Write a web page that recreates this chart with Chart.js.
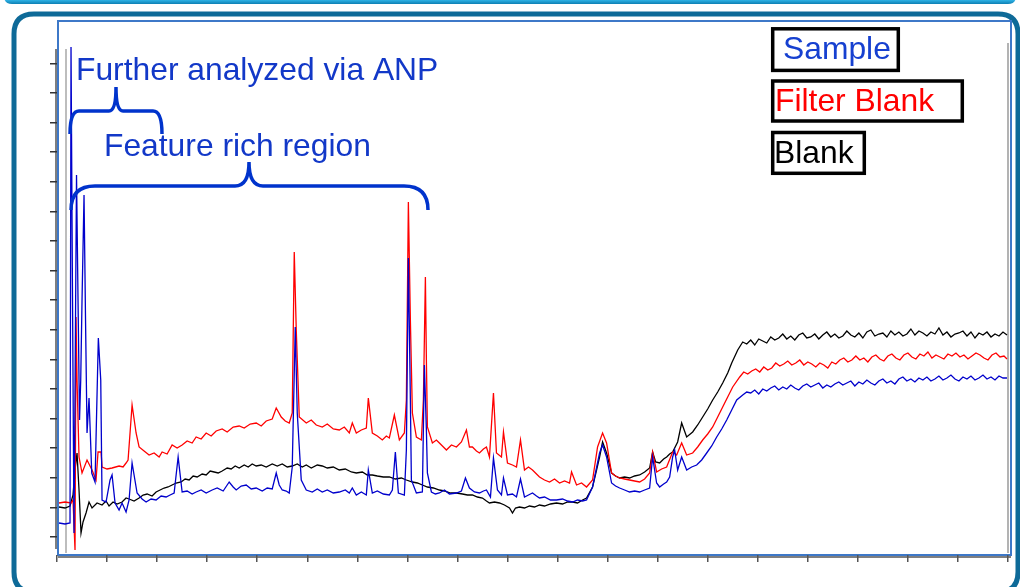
<!DOCTYPE html>
<html>
<head>
<meta charset="utf-8">
<script src="https://cdn.jsdelivr.net/npm/chart.js@4.4.1/dist/chart.umd.min.js"></script>
<style>
  html, body { margin: 0; padding: 0; background: #ffffff; }
  #wrap { width: 1020px; height: 587px; }
</style>
</head>
<body>
<div id="wrap"><canvas id="c" width="1020" height="587"></canvas></div>
<script>
// ---------------- DATA (retention axis: 50 units per tick; intensity: arbitrary units) ----------------
const xTicks = [0, 50, 100, 150, 200, 250, 300, 350, 400, 450, 500, 550, 600, 650, 700, 750, 800, 850, 900, 950];
const yTicks = [0, 29.6, 59.2, 88.8, 118.4, 148, 177.6, 207.2, 236.8, 266.4, 296, 325.6, 355.2, 384.8, 414.4, 444, 473.6];

const seriesNames = ["Sample", "Filter Blank", "Blank"];

// [retention, intensity]
const sample = [
  [2,14],[8,13],[13,14],[14,490],[15.5,237],[17,4],[19.5,362],[21,237],[22.5,117],[23.7,157],[25,237],[27,342],[28.5,217],
  [30,104],[32,139],[34.7,64],[38,55],[41.3,199],[43.7,157],[45,37],[49,35],[53,57],[55,62],[58,34],[62,27],[65,34],[69,25],[72,37],[75,74],
  [80,44],[85,38],[89,35],[94,38],[99,37],[104,41],[109,40],[113,42],[117,44],[121,80],[125,45],[130,46],[135,43],[139,45],[144,47],[149,44],
  [155,47],[160,49],[166,46],[172,55],[176,50],[179,47],[184,51],[189,52],[194,48],[199,49],[205,46],[210,49],[215,48],[219,64],[222,52],[225,47],[229,46],[232,44],
  [235,70],[238,210],[240,124],[244,57],
  [249,47],[255,45],[260,48],[265,45],[270,47],[276,44],[282,45],[288,47],[292,44],[295,49],[299,42],[304,45],[309,42],[311,67],[315,44],[320,46],[326,43],[332,42],[335,47],[338,85],[341,44],[347,42],
  [349,87],[351,279],[353,137],[354,57],[359,44],[365,45],[367,172],[369,107],[370,64],
  [374,45],[378,43],[382,44],[387,47],[392,43],[399,44],[404,46],[408,59],[412,49],[417,45],[422,44],[426,46],[429,47],[433,40],[436,79],[440,47],[444,42],[446,59],[450,42],
  [455,43],[459,40],[463,58],[467,40],[471,42],[475,44],[479,41],[482,39],[487,40],[493,37],[499,37],[505,38],[510,36],[515,35],[520,37],[525,36],[529,37],[535,50],
  [542,84],[545,92],[549,80],
  [554,54],[558,51],[562,49],[567,47],[572,45],[577,46],[582,45],[587,47],[592,49],[595,80],[599,54],[602,50],[606,53],[609,55],[612,60],[615,80],[617,87],[620,67],[624,80],[629,67],
  [634,70],[639,72],[644,77],[649,84],[654,91],[659,100],[664,108],[669,117],[674,127],[679,137],
  [685,142],[689,145],[693,144],[697,147],[701,143],[705,148],[709,146],[713,149],[717,151],[721,147],[725,150],[729,148],[733,152],[737,149],[741,147],[745,151],[749,153],
  [753,150],[757,152],[761,154],[765,149],[769,152],[773,150],[777,153],[781,155],[785,152],[789,154],[793,156],[797,151],[801,155],[805,153],[809,157],[813,154],[817,152],
  [821,156],[825,158],[829,154],[833,156],[837,153],[841,158],[845,160],[849,156],[853,158],[857,155],[861,159],[865,157],[869,160],[873,156],[877,158],[881,161],[885,157],
  [889,159],[893,162],[897,158],[901,156],[905,160],[909,158],[913,161],[917,157],[921,159],[925,162],[929,158],[933,160],[937,157],[941,161],[945,159],[949,159]
];

const filterBlank = [
  [2,34],[8,35],[14,34],[16,37],[18,-13],[19,220],[20,157],[22,80],[25,64],[30,77],[35,67],[39,57],[41,85],[44,85],[45,70],[50,68],[55,69],[62,71],[66,70],[69,74],[71,77],[75,132],[79,104],
  [82,90],[87,86],[92,82],[97,84],[102,80],[105,85],[110,83],[115,92],[120,89],[125,92],[130,96],[135,94],[139,100],[144,98],[149,104],[154,101],[159,106],[165,108],[170,105],
  [176,110],[182,111],[187,109],[193,113],[199,114],[204,111],[209,116],[215,118],[219,129],[224,120],[228,116],[232,114],
  [235,124],[237,285],[239,207],
  [242,120],[249,114],[254,117],[259,112],[265,110],[270,113],[276,108],[282,107],[287,110],[292,104],[295,114],[299,104],[304,107],[309,109],[311,139],[315,104],[320,101],
  [325,97],[329,101],[332,99],[337,122],[342,97],[347,104],
  [349,137],[351,335],[353,217],[355,124],[359,100],[364,97],[366,137],[368,260],[369,177],
  [370,110],[375,94],[379,97],[382,94],[386,90],[389,87],[394,92],[399,90],[404,95],[409,107],[412,90],[415,90],[419,86],[422,84],[426,88],[429,90],[432,80],[436,144],[439,84],
  [444,80],[446,105],[450,74],[455,72],[459,70],[463,97],[467,67],[471,70],[475,67],[479,63],[482,60],[487,57],[492,55],[497,58],[502,54],[507,56],[512,54],[514,65],[519,52],
  [524,54],[529,50],[535,57],
  [540,90],[545,104],[549,94],
  [554,64],[558,61],[562,59],[567,58],[572,57],[577,56],[582,55],[587,58],[592,64],[595,85],[599,65],[604,68],[609,70],[615,85],[619,82],[624,94],[629,82],[635,84],[640,90],
  [645,97],[650,103],[655,110],[660,120],[665,130],[670,140],[675,150],[682,160],
  [686,165],[690,163],[694,166],[698,168],[702,165],[706,170],[710,167],[714,169],[718,174],[722,171],[726,173],[730,176],[734,172],[738,174],[742,177],[746,172],[750,175],
  [754,173],[758,170],[762,174],[766,172],[770,169],[774,175],[778,173],[782,177],[786,179],[790,175],[794,177],[798,181],[802,177],[806,179],[810,175],[814,180],[818,182],
  [822,178],[826,176],[830,181],[834,183],[838,179],[842,177],[846,182],[850,184],[854,180],[858,178],[862,183],[866,181],[870,185],[874,179],[878,182],[882,180],[886,178],
  [890,183],[894,181],[898,184],[902,180],[906,182],[910,178],[914,181],[918,184],[922,182],[926,179],[930,177],[934,182],[938,184],[942,180],[946,181],[949,178]
];

const blank = [
  [2,30],[8,29],[13,31],[16,42],[18,67],[20,84],[22,47],[24,4],[26,15],[29,24],[32,35],[35,29],
  [40,34],[45,32],[49,36],[52,31],[56,35],[60,33],[65,35],[69,39],[72,38],[77,36],[82,39],[86,42],[90,43],[95,41],[99,45],[103,47],[107,49],[111,50],[115,52],[119,54],
  [124,55],[128,58],[132,57],[136,61],[140,60],[145,63],[149,62],[153,66],[157,65],[161,64],[165,66],[170,69],[174,68],[178,71],[182,69],[187,72],[191,70],[195,73],
  [199,71],[204,72],[209,70],[215,73],[220,71],[225,73],[230,70],[235,71],[240,73],[245,70],[249,72],[254,69],[260,72],[265,71],[270,69],[276,70],[282,67],[288,68],
  [294,65],[299,64],[305,65],[310,62],[315,62],[320,61],[326,60],[332,60],[338,58],[344,59],[349,57],[355,55],[360,54],[365,52],[370,50],[376,49],[382,47],[387,46],
  [393,44],[399,44],[405,43],[410,42],[415,42],[420,40],[425,39],[429,36],[432,34],[437,35],[442,34],[447,32],[452,29],[455,24],[458,29],[462,30],[467,29],[472,31],
  [477,30],[482,32],[487,31],[493,33],[499,34],[505,33],[510,35],[515,35],[520,34],[525,37],[529,39],
  [535,50],[539,67],[542,80],[545,95],[549,84],[552,72],
  [554,64],[558,61],[562,59],[567,60],[572,59],[577,61],[582,62],[587,65],[592,69],[595,85],[598,75],[602,74],[606,78],[609,80],[612,83],[615,85],[620,95],[624,114],
  [629,100],[635,105],[640,112],[645,120],[650,128],[655,137],[660,145],[665,154],[670,164],[674,174],[680,187],
  [685,195],[689,193],[693,197],[697,192],[701,198],[705,196],[709,194],[713,200],[717,197],[721,199],[725,203],[729,198],[733,201],[737,197],[741,202],[745,204],[749,199],
  [753,200],[757,203],[761,198],[765,202],[769,205],[773,200],[777,203],[781,199],[785,201],[789,206],[793,202],[797,200],[801,204],[805,199],[809,205],[813,207],[817,201],
  [821,203],[825,204],[829,200],[833,206],[837,202],[841,205],[845,201],[849,203],[853,208],[857,202],[861,206],[865,204],[869,201],[873,205],[877,203],[881,209],[885,202],
  [889,205],[893,200],[897,203],[901,204],[905,206],[909,201],[913,205],[917,199],[921,204],[925,202],[929,205],[933,200],[937,203],[941,201],[945,205],[949,202]
];

const seriesColors = ["#0000cc", "#ff0000", "#000000"];

// ---------------- helpers ----------------
function toPoints(arr) { return arr.map(p => ({ x: p[0], y: p[1] })); }

const FONT = "'Liberation Sans', Arial, Helvetica, sans-serif";

function roundRect(ctx, x, y, w, h, r) {
  ctx.beginPath();
  ctx.moveTo(x + r, y);
  ctx.lineTo(x + w - r, y);
  ctx.quadraticCurveTo(x + w, y, x + w, y + r);
  ctx.lineTo(x + w, y + h - r);
  ctx.quadraticCurveTo(x + w, y + h, x + w - r, y + h);
  ctx.lineTo(x + r, y + h);
  ctx.quadraticCurveTo(x, y + h, x, y + h - r);
  ctx.lineTo(x, y + r);
  ctx.quadraticCurveTo(x, y, x + r, y);
  ctx.closePath();
}

function brace(ctx, x1, x2, endY, hY, tipX, tipY, r, rt) {
  ctx.beginPath();
  ctx.moveTo(x1, endY);
  ctx.quadraticCurveTo(x1, hY, x1 + r, hY);
  ctx.lineTo(tipX - rt, hY);
  ctx.quadraticCurveTo(tipX, hY, tipX, tipY);
  ctx.quadraticCurveTo(tipX, hY, tipX + rt, hY);
  ctx.lineTo(x2 - r, hY);
  ctx.quadraticCurveTo(x2, hY, x2, endY);
  ctx.stroke();
}

const decor = {
  id: 'decor',
  beforeDraw(chart) {
    const ctx = chart.ctx;
    ctx.save();
    ctx.fillStyle = '#ffffff';
    ctx.fillRect(0, 0, chart.width, chart.height);
    // top bar (edge of slide box above)
    const g = ctx.createLinearGradient(0, 0, 0, 4);
    g.addColorStop(0, '#2fb3e6');
    g.addColorStop(1, '#0d7fb3');
    ctx.fillStyle = g;
    roundRect(ctx, 4, -20, 1012, 24, 8);
    ctx.fill();
    // outer rounded box
    ctx.strokeStyle = '#0e6a98';
    ctx.lineWidth = 5;
    roundRect(ctx, 14, 14, 1004, 578, 20);
    ctx.stroke();
    // inner grey guide lines
    ctx.strokeStyle = '#bdbdbd';
    ctx.lineWidth = 2;
    ctx.beginPath(); ctx.moveTo(66, 49); ctx.lineTo(66, 553); ctx.stroke();
    ctx.strokeStyle = '#9a9a9a';
    ctx.lineWidth = 1.5;
    ctx.beginPath(); ctx.moveTo(1008, 43); ctx.lineTo(1008, 553); ctx.stroke();
    // axis lines
    ctx.strokeStyle = '#555555';
    ctx.lineWidth = 1.5;
    ctx.beginPath(); ctx.moveTo(56, 49); ctx.lineTo(56, 549); ctx.stroke();
    ctx.beginPath(); ctx.moveTo(58, 557); ctx.lineTo(1011, 557); ctx.stroke();
    // blue plot frame
    ctx.strokeStyle = '#3d78c8';
    ctx.lineWidth = 2;
    ctx.strokeRect(58, 21, 953, 534);
    ctx.restore();
  },
  afterDraw(chart) {
    const ctx = chart.ctx;
    ctx.save();
    // braces
    ctx.strokeStyle = '#0033cc';
    ctx.lineWidth = 3.5;
    ctx.lineCap = 'butt';
    brace(ctx, 70, 162, 134, 111, 116, 87, 9, 7);
    brace(ctx, 71, 428, 210, 186, 249, 162, 24, 14);
    // annotation texts
    ctx.font = '31.8px ' + FONT;
    ctx.textBaseline = 'alphabetic';
    ctx.fillStyle = '#1238c8';
    ctx.fillText('Further analyzed via ANP', 76, 80);
    ctx.fillText('Feature rich region', 104, 156);
    // legend boxes
    ctx.strokeStyle = '#000000';
    ctx.lineWidth = 3.5;
    ctx.strokeRect(772.7, 28.8, 125.6, 41.6);
    ctx.strokeRect(772.7, 81.0, 189.6, 40.0);
    ctx.strokeRect(772.7, 132.5, 91.6, 40.8);
    ctx.fillStyle = '#1640d0';
    ctx.fillText(seriesNames[0], 783, 59);
    ctx.fillStyle = '#ff0000';
    ctx.fillText(seriesNames[1], 775, 111);
    ctx.fillStyle = '#000000';
    ctx.fillText(seriesNames[2], 774, 163);
    ctx.restore();
  }
};

const chart = new Chart(document.getElementById('c'), {
  type: 'line',
  data: {
    datasets: [
      { label: seriesNames[0], data: toPoints(sample), borderColor: seriesColors[0], borderWidth: 1.3, pointRadius: 0, tension: 0, fill: false },
      { label: seriesNames[1], data: toPoints(filterBlank), borderColor: seriesColors[1], borderWidth: 1.3, pointRadius: 0, tension: 0, fill: false },
      { label: seriesNames[2], data: toPoints(blank), borderColor: seriesColors[2], borderWidth: 1.3, pointRadius: 0, tension: 0, fill: false }
    ]
  },
  options: {
    responsive: false,
    animation: false,
    devicePixelRatio: 1,
    layout: { padding: { left: 50, right: 12, top: 21, bottom: 25 } },
    plugins: { legend: { display: false }, tooltip: { enabled: false } },
    scales: {
      x: {
        type: 'linear', min: 0, max: 950,
        afterBuildTicks: (s) => { s.ticks = xTicks.map(v => ({ value: v })); },
        ticks: { display: false },
        grid: { drawOnChartArea: false, drawTicks: true, tickLength: 7, color: '#555555', lineWidth: 1.5 },
        border: { display: false }
      },
      y: {
        type: 'linear', min: -18, max: 516,
        afterBuildTicks: (s) => { s.ticks = yTicks.map(v => ({ value: v })); },
        ticks: { display: false },
        grid: { drawOnChartArea: false, drawTicks: true, tickLength: 7, color: '#333333', lineWidth: 1.5 },
        border: { display: false }
      }
    }
  },
  plugins: [decor]
});
</script>
</body>
</html>
